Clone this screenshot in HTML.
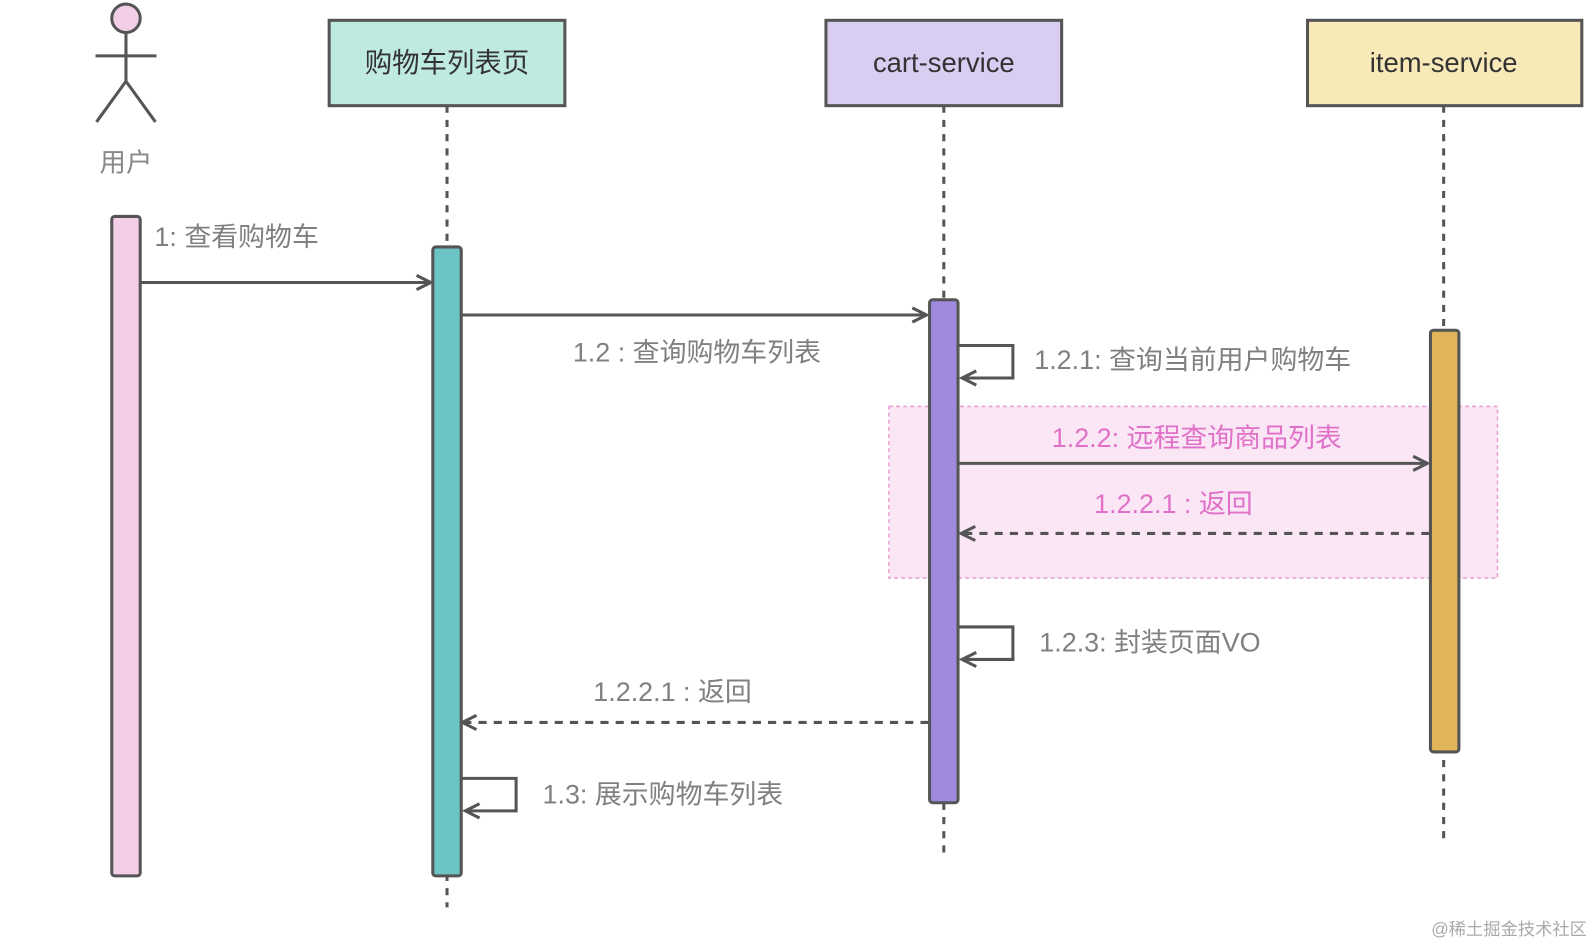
<!DOCTYPE html>
<html><head><meta charset="utf-8"><style>
html,body{margin:0;padding:0;background:#fff;}
svg{display:block;}
text{font-family:"Liberation Sans","Noto Sans CJK SC",sans-serif;}
</style></head><body>
<svg width="1593" height="946" viewBox="0 0 1568 931" preserveAspectRatio="none" xmlns="http://www.w3.org/2000/svg">
<defs>
<marker id="ar" viewBox="0 0 20 20" refX="17" refY="10" markerWidth="20" markerHeight="20" markerUnits="userSpaceOnUse" orient="auto">
<path d="M3 3 L17 10 L3 17" fill="none" stroke="#555" stroke-width="3"/>
</marker>
</defs>
<rect x="875" y="400" width="599" height="169" fill="#fbe6f5" stroke="#e8a0d8" stroke-width="1.5" stroke-dasharray="4,3"/>
<g stroke="#555" stroke-width="3" stroke-dasharray="7,7">
<line x1="440" y1="104" x2="440" y2="893"/>
<line x1="929" y1="104" x2="929" y2="845"/>
<line x1="1421" y1="104" x2="1421" y2="832"/>
</g>
<g stroke="#555" stroke-width="3" fill="none">
<circle cx="124" cy="18" r="14" fill="#f2cfe6"/>
<line x1="124" y1="32" x2="124" y2="80"/>
<line x1="94" y1="55" x2="154" y2="55"/>
<line x1="124" y1="80" x2="95" y2="120"/>
<line x1="124" y1="80" x2="153" y2="120"/>
</g>
<text x="124" y="169" font-size="26" fill="#888" text-anchor="middle">用户</text>
<g stroke="#555" stroke-width="3">
<rect x="324" y="20" width="232" height="84" fill="#bfeae0"/>
<rect x="813" y="20" width="232" height="84" fill="#d9cdf2"/>
<rect x="1287" y="20" width="270" height="84" fill="#f7eab8"/>
</g>
<g font-size="27" fill="#333" text-anchor="middle">
<text x="440" y="71">购物车列表页</text>
<text x="929" y="71">cart-service</text>
<text x="1421" y="71">item-service</text>
</g>
<g stroke="#555" stroke-width="3">
<rect x="110" y="213" width="28" height="649" rx="3" fill="#f2cfe6"/>
<rect x="426" y="243" width="28" height="619" rx="3" fill="#6cc4c4"/>
<rect x="915" y="295" width="28" height="495" rx="3" fill="#a08ae0"/>
<rect x="1408" y="325" width="28" height="415" rx="3" fill="#e0b55a"/>
</g>
<g stroke="#555" stroke-width="3" fill="none">
<line x1="139" y1="278" x2="424" y2="278" marker-end="url(#ar)"/>
<line x1="455" y1="310" x2="912" y2="310" marker-end="url(#ar)"/>
<polyline points="944,340 997,340 997,372 947,372" marker-end="url(#ar)"/>
<line x1="944" y1="456" x2="1405" y2="456" marker-end="url(#ar)"/>
<line x1="1407" y1="525" x2="946" y2="525" stroke-dasharray="8,7" marker-end="url(#ar)"/>
<polyline points="944,617 997,617 997,649 947,649" marker-end="url(#ar)"/>
<line x1="914" y1="711" x2="455" y2="711" stroke-dasharray="8,7" marker-end="url(#ar)"/>
<polyline points="455,766 508,766 508,798 458,798" marker-end="url(#ar)"/>
</g>
<g font-size="26.5" fill="#808080">
<text x="152" y="242">1: 查看购物车</text>
<text x="686" y="356" text-anchor="middle">1.2 : 查询购物车列表</text>
<text x="1018" y="363">1.2.1: 查询当前用户购物车</text>
<text x="1023" y="641">1.2.3: 封装页面VO</text>
<text x="662" y="690" text-anchor="middle">1.2.2.1 : 返回</text>
<text x="534" y="791">1.3: 展示购物车列表</text>
</g>
<g font-size="26.5" fill="#e070c8" text-anchor="middle">
<text x="1178" y="440">1.2.2: 远程查询商品列表</text>
<text x="1155" y="505">1.2.2.1 : 返回</text>
</g>
<text x="1562" y="920" font-size="17" fill="#aaa" text-anchor="end" font-family="'Liberation Serif','Noto Serif CJK SC',serif">@稀土掘金技术社区</text>
</svg>
</body></html>
